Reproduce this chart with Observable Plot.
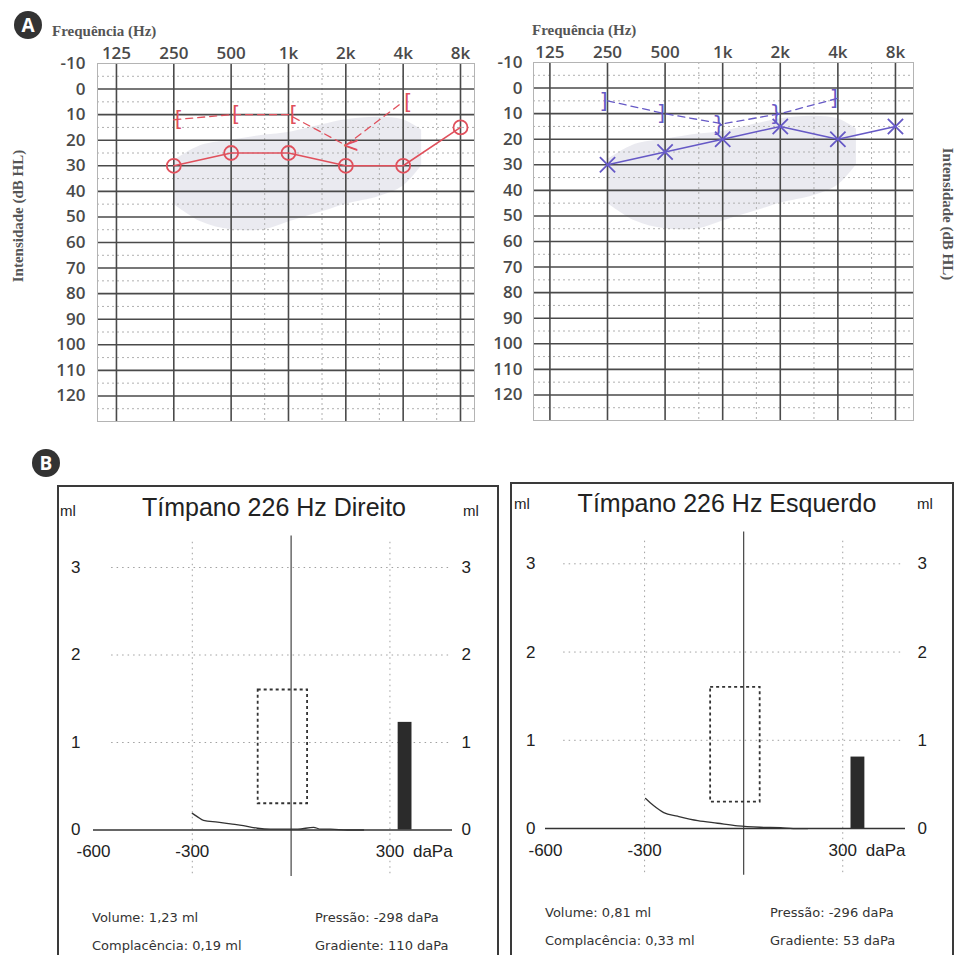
<!DOCTYPE html>
<html><head><meta charset="utf-8">
<script src="https://cdn.jsdelivr.net/npm/d3@7"></script>
<script src="https://cdn.jsdelivr.net/npm/@observablehq/plot@0.6"></script>
<style>
body{margin:0;background:#fff;}
#root{position:relative;width:954px;height:955px;overflow:hidden;background:#fff;}
.abs{position:absolute;white-space:nowrap;}
.abs svg{overflow:visible;}
</style></head><body><div id="root"></div>
<script>
// ---------- DATA ----------
// Audiogram axes
const freqTicks = [125, 250, 500, 1000, 2000, 4000, 8000];
const freqTickLabels = ["125", "250", "500", "1k", "2k", "4k", "8k"];
const freqMinor = [750, 1500, 3000, 6000];
const dbMajor = [0, 10, 20, 30, 40, 50, 60, 70, 80, 90, 100, 110, 120];
const dbMinor = [-10, -5, 5, 15, 25, 35, 45, 55, 65, 75, 85, 95, 105, 115, 125];
const dbLabels = [-10, 0, 10, 20, 30, 40, 50, 60, 70, 80, 90, 100, 110, 120];

// Speech area (gray background)
const bananaFreq = [250, 350, 500, 750, 1000, 1500, 2000, 3000, 4000, 5000];
const bananaTop = [28, 22, 20, 18, 17, 14, 12, 11, 12, 16];
const bananaBottom = [45, 52, 55, 55, 52, 48, 45, 42, 38, 30];

// Right ear (red, circles = air, brackets = bone)
const rightAirFreq = [250, 500, 1000, 2000, 4000, 8000];
const rightAirDb = [30, 25, 25, 30, 30, 15];
const rightBoneFreq = [250, 500, 1000, 2000, 4000];
const rightBoneDb = [12, 10, 10, 22, 5];
const rightBoneSym = ["[", "[", "[", "<", "["];

// Left ear (blue, X = air, brackets = bone)
const leftAirFreq = [250, 500, 1000, 2000, 4000, 8000];
const leftAirDb = [30, 25, 20, 15, 20, 15];
const leftBoneFreq = [250, 500, 1000, 2000, 4000];
const leftBoneDb = [5, 10, 14, 10, 4];
const leftBoneSym = ["]", "]", "}", "}", "]"];

// Tympanograms
const pressTicks = [-600, -300, 300];
const mlTicks = [0, 1, 2, 3];
const normPressure = [-100, 50];
const normCompliance = [0.3, 1.6];
const barPressure = [325, 367];

const rightTympP = [-300, -284, -266, -223, -184, -145, -102, -63, -20, 20, 68, 90, 120, 170, 220];
const rightTympC = [0.19, 0.15, 0.11, 0.09, 0.07, 0.05, 0.02, 0.01, 0.01, 0.01, 0.03, 0.01, 0.01, 0.0, 0.0];
const leftTympP = [-297, -273, -242, -200, -139, -79, -18, 50, 112, 150, 194];
const leftTympC = [0.34, 0.26, 0.18, 0.14, 0.09, 0.06, 0.03, 0.015, 0.01, 0.0, 0.0];

const tympTitles = ["Tímpano 226 Hz Direito", "Tímpano 226 Hz Esquerdo"];
const volumes = [1.23, 0.81];
const compliances = [0.19, 0.33];
const pressures = [-298, -296];
const gradients = [110, 53];

// ---------- HELPERS ----------
const root = document.getElementById("root");
function place(text, x, y, o = {}) {
  const d = document.createElement("div");
  d.className = "abs";
  d.textContent = text;
  d.style.left = x + "px";
  d.style.top = y + "px";
  d.style.fontFamily = o.family || "'Liberation Sans', Arial, sans-serif";
  d.style.fontSize = (o.size || 14) + "px";
  d.style.fontWeight = o.weight || "normal";
  d.style.color = o.color || "#222";
  d.style.lineHeight = "1";
  const tx = o.anchor === "middle" ? "-50%" : (o.anchor === "end" ? "-100%" : "0");
  d.style.transform = `translate(${tx},-50%)`;
  if (o.rotate) d.style.transform = `translate(-50%,-50%) rotate(${o.rotate}deg)`;
  root.appendChild(d);
  return d;
}
function holder(el, left, top) {
  const d = document.createElement("div");
  d.className = "abs";
  d.style.left = left + "px";
  d.style.top = top + "px";
  d.appendChild(el);
  root.appendChild(d);
}
function badge(letter, cx, cy, r) {
  const d = document.createElement("div");
  d.className = "abs";
  Object.assign(d.style, {
    left: (cx - r) + "px", top: (cy - r) + "px", width: 2 * r + "px", height: 2 * r + "px",
    borderRadius: "50%", background: "#333", color: "#fff", textAlign: "center",
    lineHeight: 2 * r + "px", fontFamily: "'Open Sans', sans-serif", fontWeight: "700", fontSize: "19px"
  });
  d.textContent = letter;
  root.appendChild(d);
}
function box(left, top, right) {
  const d = document.createElement("div");
  d.className = "abs";
  Object.assign(d.style, {
    left: left + "px", top: top + "px", width: (right - left - 2) + "px", height: "600px",
    borderLeft: "2px solid #3a3a3a", borderTop: "2px solid #3a3a3a", borderRight: "2px solid #3a3a3a",
    pointerEvents: "none"
  });
  root.appendChild(d);
}

const banana = bananaFreq.map((f, i) => ({f, top: bananaTop[i], bottom: bananaBottom[i]}));

function audiogram(cfg) {
  const air = cfg.airFreq.map((f, i) => ({f, db: cfg.airDb[i]}));
  const bone = cfg.boneFreq.map((f, i) => ({f, db: cfg.boneDb[i], s: cfg.boneSym[i]}));
  const svg = Plot.plot({
    width: cfg.width, height: cfg.height,
    marginLeft: cfg.mL, marginRight: cfg.mR, marginTop: cfg.mT, marginBottom: cfg.mB,
    x: {type: "log", base: 2, domain: cfg.xDomain},
    y: {domain: [-10, 130], reverse: true},
    style: {fontFamily: "'Open Sans', sans-serif", fontSize: "17px", fontWeight: "600", color: "#4a4a4a", background: "transparent", overflow: "visible"},
    marks: [
      Plot.areaY(banana, {x: "f", y1: "top", y2: "bottom", fill: "#dcdce6", fillOpacity: 0.6, curve: "catmull-rom"}),
      Plot.ruleY(dbMinor, {stroke: "#b0b0b0", strokeDasharray: "2,3", strokeWidth: 1}),
      Plot.ruleX(freqMinor, {stroke: "#b0b0b0", strokeDasharray: "2,3", strokeWidth: 1}),
      Plot.ruleY(dbMajor, {stroke: "#4a4a4a", strokeWidth: 1.6}),
      Plot.ruleX(freqTicks, {stroke: "#4a4a4a", strokeWidth: 1.6}),
      Plot.frame({stroke: "#b4b4b4"}),
      Plot.line(bone, {x: "f", y: "db", stroke: cfg.color, strokeWidth: 1.3, strokeDasharray: "7,5"}),
      Plot.text(bone, {x: "f", y: "db", text: "s", fill: cfg.color, fontSize: 21, fontWeight: "normal", fontFamily: "'DejaVu Sans', sans-serif", dx: cfg.boneDx}),
      Plot.line(air, {x: "f", y: "db", stroke: cfg.color, strokeWidth: 1.6}),
      Plot.dot(air, {x: "f", y: "db", r: 7, symbol: cfg.symbol, stroke: cfg.color, strokeWidth: 1.8, fill: "none"}),
      Plot.axisX(freqTicks, {anchor: "top", tickSize: 0, tickPadding: 5, tickFormat: d => freqTickLabels[freqTicks.indexOf(d)], label: null}),
      Plot.axisY(dbLabels, {anchor: "left", tickSize: 0, tickPadding: cfg.yPad, tickFormat: d => String(d), label: null})
    ]
  });
  holder(svg, cfg.left, cfg.top);
}

function tymp(cfg) {
  const curve = cfg.p.map((p, i) => ({p, c: cfg.c[i]}));
  const svg = Plot.plot({
    width: cfg.width, height: cfg.height,
    marginLeft: cfg.mL, marginRight: cfg.mR, marginTop: cfg.mT, marginBottom: cfg.mB,
    x: {domain: [-600, 490], axis: null},
    y: {domain: [-0.6, 3.4], axis: null},
    style: {fontFamily: "'Liberation Sans', Arial, sans-serif", fontSize: "17px", color: "#222", background: "transparent", overflow: "visible"},
    marks: [
      Plot.ruleY([1, 2, 3], {x1: -545, x2: 480, stroke: "#a0a0a0", strokeDasharray: "1.5,4"}),
      Plot.ruleX([-300, 300], {y1: -0.5, y2: 3.3, stroke: "#a0a0a0", strokeDasharray: "1.5,4"}),
      Plot.ruleX([0], {y1: -0.53, y2: 3.36, stroke: "#444", strokeWidth: 1.2}),
      Plot.rect([{}], {x1: normPressure[0], x2: normPressure[1], y1: normCompliance[0], y2: normCompliance[1], fill: "none", stroke: "#333", strokeWidth: 1.8, strokeDasharray: "3,3"}),
      Plot.rect([{v: cfg.volume}], {x1: barPressure[0], x2: barPressure[1], y1: 0, y2: "v", fill: "#2b2b2b"}),
      Plot.ruleY([0], {x1: -600, x2: 490, stroke: "#333", strokeWidth: 1.6}),
      Plot.line(curve, {x: "p", y: "c", stroke: "#333", strokeWidth: 1.3, curve: "monotone-x"}),
      Plot.axisY(mlTicks, {anchor: "left", tickSize: 0, tickPadding: cfg.padL, tickFormat: d => String(d), label: null}),
      Plot.axisY(mlTicks, {anchor: "right", tickSize: 0, tickPadding: cfg.padR, tickFormat: d => String(d), label: null}),
      Plot.text(pressTicks, {x: d => d, y: 0, dy: 22, text: d => String(d)}),
      Plot.text(["daPa"], {x: 300, y: 0, dy: 22, dx: 23, textAnchor: "start"})
    ]
  });
  holder(svg, cfg.left, cfg.top);
}

// ---------- PANEL A ----------
badge("A", 28, 25, 14);
const serifBold = {family: "'Liberation Serif', 'Times New Roman', serif", weight: "700", color: "#555"};
place("Frequência (Hz)", 52, 31, {...serifBold, size: 15});
place("Frequência (Hz)", 532, 30, {...serifBold, size: 15});
place("Intensidade (dB HL)", 18, 216, {...serifBold, size: 15, rotate: -90});
place("Intensidade (dB HL)", 947, 214, {...serifBold, size: 15, rotate: 90});

audiogram({
  left: 0, top: 0, width: 480, height: 430, mL: 97, mR: 6, mT: 63, mB: 9,
  xDomain: [99.4, 9475], yPad: 12, color: "#e0505c", symbol: "circle", boneDx: 5,
  airFreq: rightAirFreq, airDb: rightAirDb, boneFreq: rightBoneFreq, boneDb: rightBoneDb, boneSym: rightBoneSym
});
audiogram({
  left: 470, top: 0, width: 480, height: 430, mL: 63, mR: 37, mT: 62, mB: 10,
  xDomain: [102.6, 9940], yPad: 11, color: "#6659c6", symbol: "times", boneDx: -4,
  airFreq: leftAirFreq, airDb: leftAirDb, boneFreq: leftBoneFreq, boneDb: leftBoneDb, boneSym: leftBoneSym
});

// ---------- PANEL B ----------
badge("B", 46, 463, 14);

tymp({left: 57, top: 485, width: 440, height: 470, mL: 36, mR: 45, mT: 47, mB: 73,
  p: rightTympP, c: rightTympC, volume: volumes[0], padL: 13, padR: 9});
tymp({left: 510, top: 482, width: 442, height: 473, mL: 35, mR: 47, mT: 46, mB: 74,
  p: leftTympP, c: leftTympC, volume: volumes[1], padL: 10, padR: 12});

box(57, 485, 497);
box(510, 482, 952);

const fmt = v => v.toFixed(2).replace(".", ",");
const sans = {family: "'Liberation Sans', Arial, sans-serif", color: "#222"};
place("ml", 60, 510, {...sans, size: 15});
place("ml", 463, 510, {...sans, size: 15});
place(tympTitles[0], 274, 507, {...sans, size: 25, anchor: "middle"});
place("ml", 514, 503, {...sans, size: 15});
place("ml", 917, 503, {...sans, size: 15});
place(tympTitles[1], 727, 503, {...sans, size: 25, anchor: "middle"});

const stat = {family: "'DejaVu Sans', Verdana, sans-serif", size: 13, color: "#333"};
place(`Volume: ${fmt(volumes[0])} ml`, 92, 917, stat);
place(`Complacência: ${fmt(compliances[0])} ml`, 92, 945, stat);
place(`Pressão: ${pressures[0]} daPa`, 315, 917, stat);
place(`Gradiente: ${gradients[0]} daPa`, 315, 945, stat);
place(`Volume: ${fmt(volumes[1])} ml`, 545, 912, stat);
place(`Complacência: ${fmt(compliances[1])} ml`, 545, 940, stat);
place(`Pressão: ${pressures[1]} daPa`, 770, 912, stat);
place(`Gradiente: ${gradients[1]} daPa`, 770, 940, stat);
</script>
</body></html>
